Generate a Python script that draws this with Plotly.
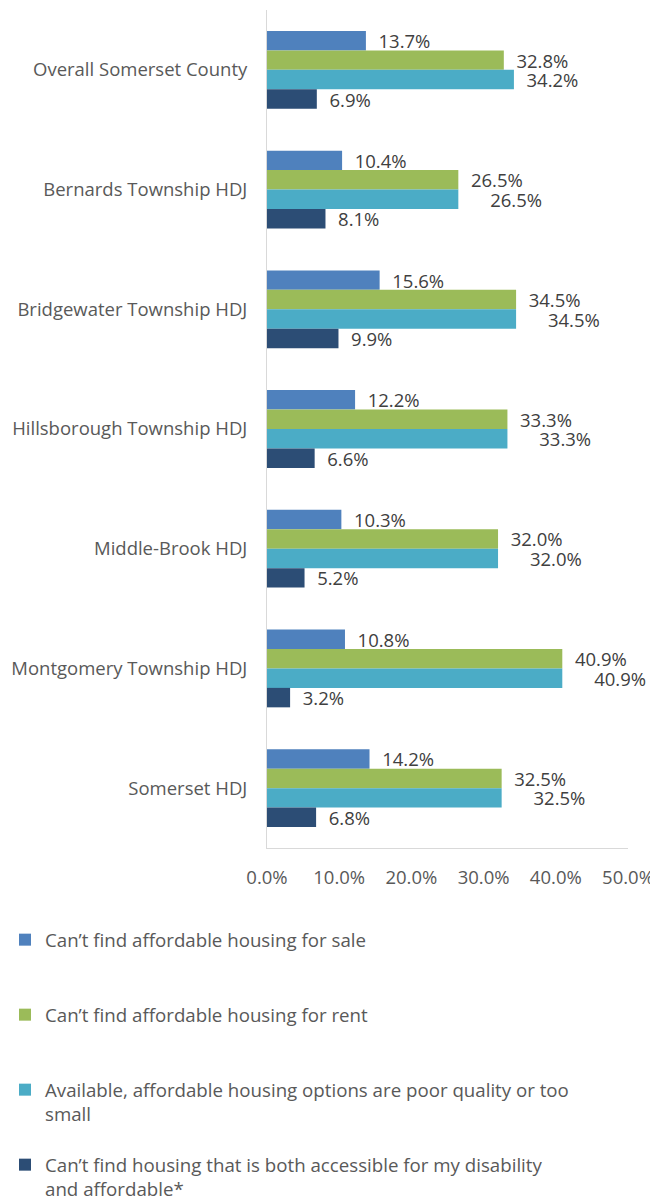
import plotly.graph_objects as go

categories = [
    "Overall Somerset County",
    "Bernards Township HDJ",
    "Bridgewater Township HDJ",
    "Hillsborough Township HDJ",
    "Middle-Brook HDJ",
    "Montgomery Township HDJ",
    "Somerset HDJ",
]
series_names = [
    "Can\u2019t find affordable housing for sale",
    "Can\u2019t find affordable housing for rent",
    "Available, affordable housing options are poor quality or too<br>small",
    "Can\u2019t find housing that is both accessible for my disability<br>and affordable*",
]
for_sale = [13.7, 10.4, 15.6, 12.2, 10.3, 10.8, 14.2]
for_rent = [32.8, 26.5, 34.5, 33.3, 32.0, 40.9, 32.5]
poor_quality = [34.2, 26.5, 34.5, 33.3, 32.0, 40.9, 32.5]
accessible = [6.9, 8.1, 9.9, 6.6, 5.2, 3.2, 6.8]
x_tick_vals = [0, 10, 20, 30, 40, 50]
x_tick_text = ["0.0%", "10.0%", "20.0%", "30.0%", "40.0%", "50.0%"]

colors = ["#4F81BD", "#9BBB59", "#4BACC6", "#2C4D75"]
series = [for_sale, for_rent, poor_quality, accessible]

FONT = "Open Sans"
TXT = "#404040"
LBL = "#595959"

fig = go.Figure()
legend_ids = ["legend", "legend2", "legend3", "legend4"]
for i, (name, vals, col) in enumerate(zip(series_names, series, colors)):
    texts = []
    for j, v in enumerate(vals):
        pad = "  "
        if i == 2 and v == for_rent[j]:
            pad = "      "
        texts.append(f"{pad}{v:.1f}%")
    fig.add_trace(go.Bar(
        y=categories, x=vals, name=name, orientation="h",
        marker=dict(color=col, line=dict(width=0)),
        text=texts, textposition="outside", cliponaxis=False,
        constraintext="none",
        textfont=dict(family=FONT, size=18.5, color=TXT),
        legend=legend_ids[i],
        hoverinfo="skip",
    ))

leg_common = dict(
    xref="container", yref="container", x=5 / 650, xanchor="left", yanchor="top",
    font=dict(family=FONT, size=18.7, color=LBL), valign="top",
    bgcolor="rgba(0,0,0,0)", itemwidth=30,
)
leg_tops = [921, 996, 1071, 1146]
legends = {}
for k, top in zip(legend_ids, leg_tops):
    legends[k] = dict(leg_common, y=1 - top / 1203)

fig.update_layout(
    width=650, height=1203,
    margin=dict(l=267, r=22, t=10, b=355, autoexpand=False),
    paper_bgcolor="white", plot_bgcolor="white",
    barmode="group", bargap=0.35, bargroupgap=0,
    showlegend=True,
    **legends,
)
fig.update_xaxes(
    range=[0, 50], tickvals=x_tick_vals, ticktext=x_tick_text,
    showgrid=False, zeroline=False, showline=True, linecolor="#D9D9D9", linewidth=1,
    ticks="", ticklabelstandoff=13, automargin=False, ticklabeloverflow="allow",
    tickfont=dict(family=FONT, size=18.5, color=LBL),
)
fig.update_yaxes(
    autorange="reversed", showgrid=False, zeroline=False,
    showline=True, linecolor="#D9D9D9", linewidth=1, ticks="",
    ticklabelstandoff=15, automargin=False,
    tickfont=dict(family=FONT, size=18.5, color=LBL),
)

fig.write_html("out.html", config={"displayModeBar": False},
               post_script="document.body.style.margin='0';")
